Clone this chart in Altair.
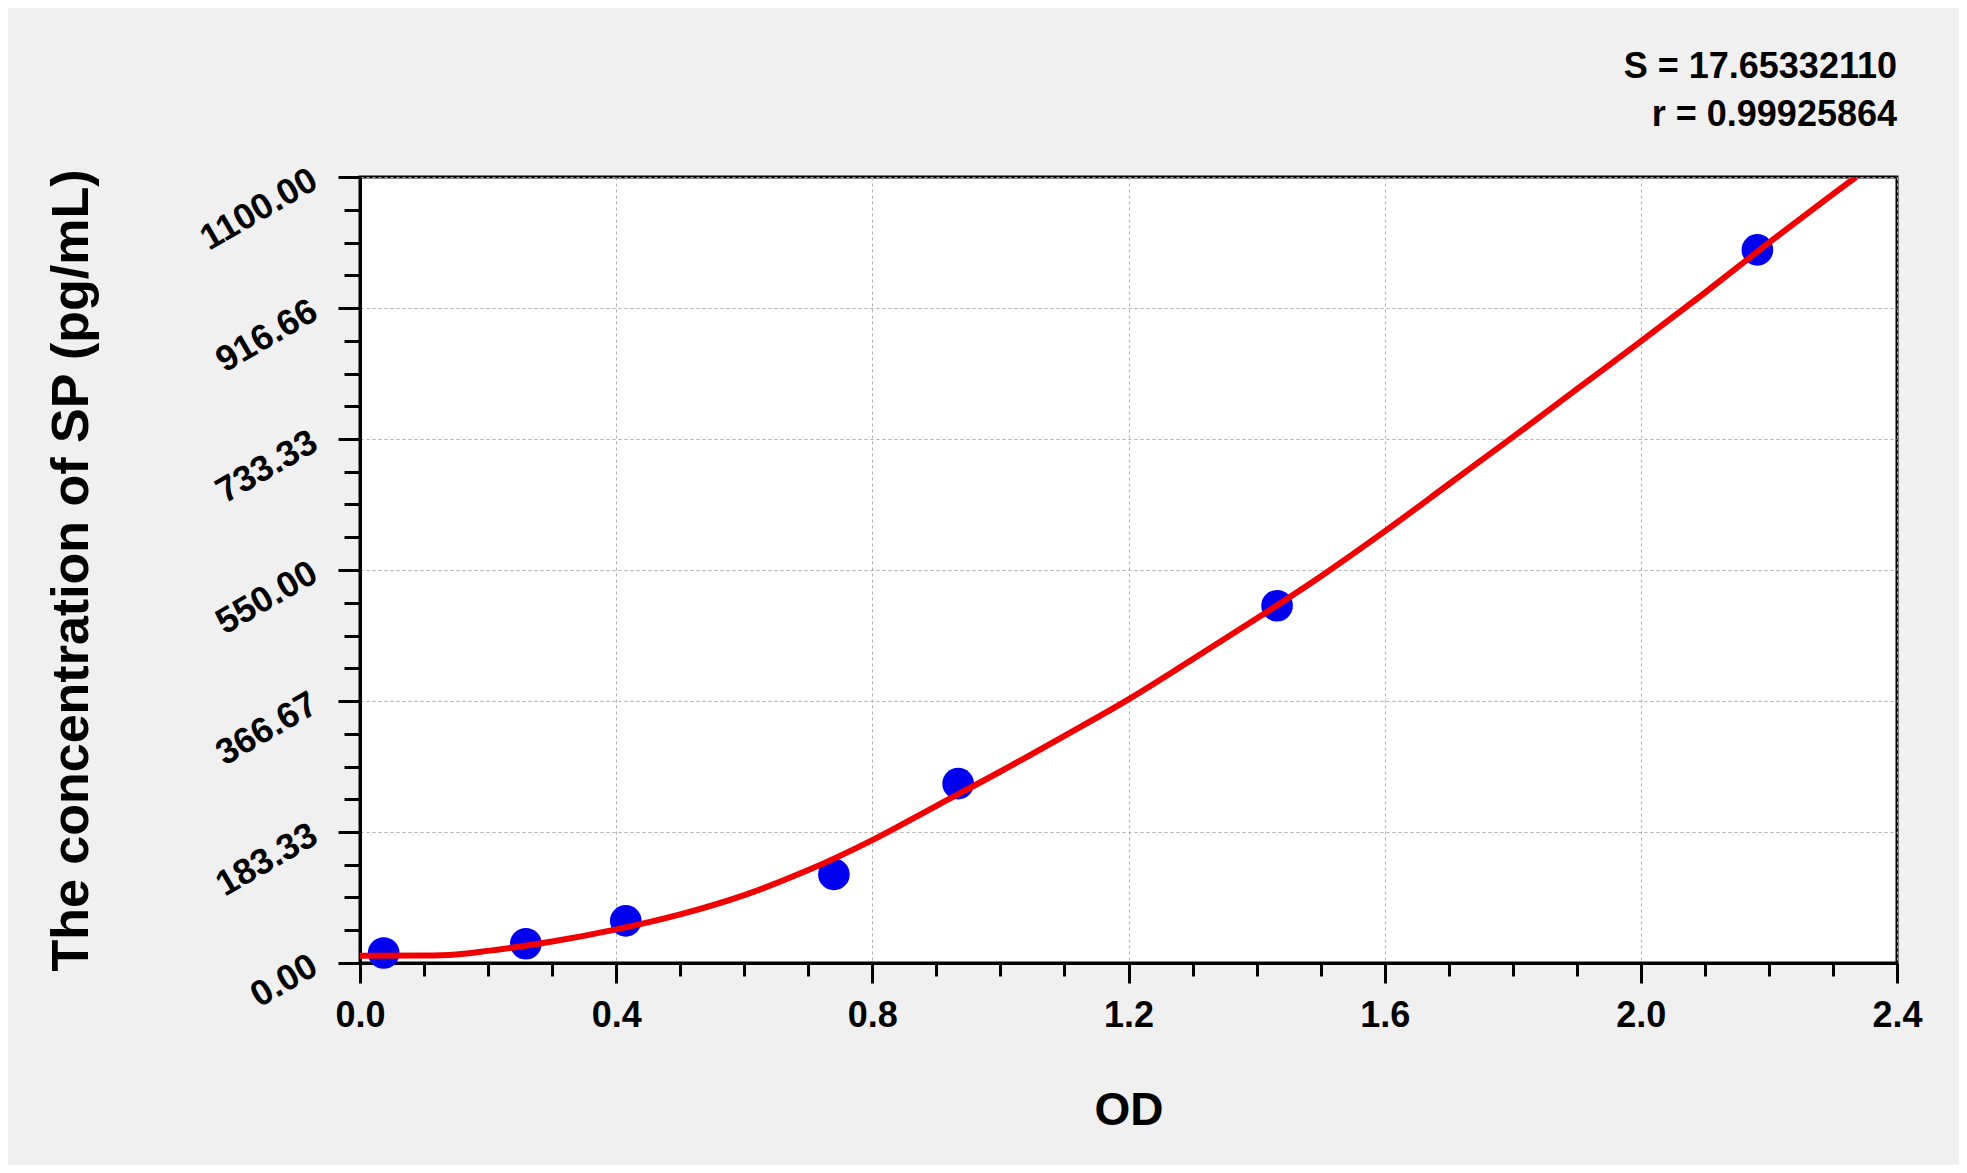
import altair as alt
import pandas as pd

# measured standards
od = [0.037, 0.259, 0.415, 0.740, 0.934, 1.432, 2.182]
conc = [14, 27, 59, 124, 251, 500, 998]

# fitted curve
curve_od = [0.0, 0.1, 0.15, 0.2, 0.25, 0.3, 0.4, 0.5, 0.6, 0.7, 0.8, 0.9, 1.0, 1.1,
            1.2, 1.3, 1.4, 1.5, 1.6, 1.7, 1.8, 1.9, 2.0, 2.1, 2.2, 2.3, 2.336]
curve_conc = [10, 10.5, 12, 17, 23, 30, 47, 68, 95, 130, 172, 220, 268, 318,
              369, 425, 482, 541, 604, 670, 736, 803, 870, 938, 1008, 1076, 1100]

x_major = [0.0, 0.4, 0.8, 1.2, 1.6, 2.0, 2.4]
x_minor = [0.1, 0.2, 0.3, 0.5, 0.6, 0.7, 0.9, 1.0, 1.1, 1.3, 1.4, 1.5, 1.7, 1.8, 1.9, 2.1, 2.2, 2.3]
y_major = [0.0, 183.33, 366.67, 550.0, 733.33, 916.66, 1100.0]
y_minor = [45.83, 91.67, 137.5, 229.17, 275.0, 320.83, 412.5, 458.33, 504.17,
           595.83, 641.67, 687.5, 779.17, 825.0, 870.83, 962.5, 1008.33, 1054.17]

stats = ["S = 17.65332110", "r = 0.99925864"]

FONT = "Liberation Sans"
W, H = 1537, 786

pts = pd.DataFrame({"od": od, "conc": conc})
crv = pd.DataFrame({"cod": curve_od, "cconc": curve_conc})

xscale = alt.Scale(domain=[0, 2.4], nice=False, zero=False)
yscale = alt.Scale(domain=[0, 1100], nice=False, zero=False)

x_axis_major = alt.Axis(
    values=x_major, format=".1f", orient="bottom",
    tickSize=20, tickWidth=3, tickColor="black",
    domainWidth=3, domainColor="black",
    labelFont=FONT, labelFontSize=36, labelFontWeight="bold", labelColor="black",
    labelPadding=15, labelFlush=False, labelOverlap=False,
    grid=True, gridDash=[3, 3], gridColor="#b0b0b0", gridWidth=1,
    titleFont=FONT, titleFontSize=46, titleFontWeight="bold", titleColor="black",
    titleX=W / 2, titleY=147, titleBaseline="middle", titleAlign="center",
)
y_axis_major = alt.Axis(
    values=y_major, format=".2f", orient="left",
    tickSize=22, tickWidth=3, tickColor="black",
    domainWidth=3, domainColor="black",
    labelFont=FONT, labelFontSize=36, labelFontWeight="bold", labelColor="black",
    labelAngle=330, labelAlign="right", labelBaseline="middle",
    labelPadding=24, labelFlush=False, labelOverlap=False,
    grid=True, gridDash=[3, 3], gridColor="#b0b0b0", gridWidth=1,
    titleFont=FONT, titleFontSize=52, titleFontWeight="bold", titleColor="black",
    titleAngle=270, titleX=-289, titleY=H / 2, titleBaseline="middle", titleAlign="center",
)
x_axis_minor = alt.Axis(
    values=x_minor, orient="bottom", labels=False, domain=False, grid=False,
    tickSize=13, tickWidth=3, tickColor="black",
)
y_axis_minor = alt.Axis(
    values=y_minor, orient="left", labels=False, domain=False, grid=False,
    tickSize=16, tickWidth=3, tickColor="black",
)

points = alt.Chart(pts).mark_circle(size=1000, color="#0000ee", opacity=1).encode(
    x=alt.X("od:Q", scale=xscale, axis=x_axis_major, title="OD"),
    y=alt.Y("conc:Q", scale=yscale, axis=y_axis_major, title="The concentration of  SP (pg/mL)"),
)

line = alt.Chart(crv).mark_line(color="#f00000", strokeWidth=6, clip=True,
                                interpolate="monotone").encode(
    x=alt.X("cod:Q", scale=xscale, axis=x_axis_minor, title=""),
    y=alt.Y("cconc:Q", scale=yscale, axis=y_axis_minor, title=""),
)

chart = alt.layer(points, line).resolve_axis(
    x="independent", y="independent"
).resolve_scale(
    x="shared", y="shared"
).properties(
    width=W, height=H,
    autosize=alt.AutoSizeParams(type="none"),
    padding={"left": 352, "top": 169, "right": 62, "bottom": 202},
    background="#f0f0f0",
    title=alt.TitleParams(
        text=stats, anchor="end", align="right", frame="group",
        font=FONT, fontSize=36, fontWeight="bold", color="black",
        lineHeight=48, offset=27, orient="top",
    ),
).configure_view(
    stroke="black", strokeWidth=3, fill="white"
)

chart.save("out.html", embed_options={"renderer": "svg", "actions": False})
